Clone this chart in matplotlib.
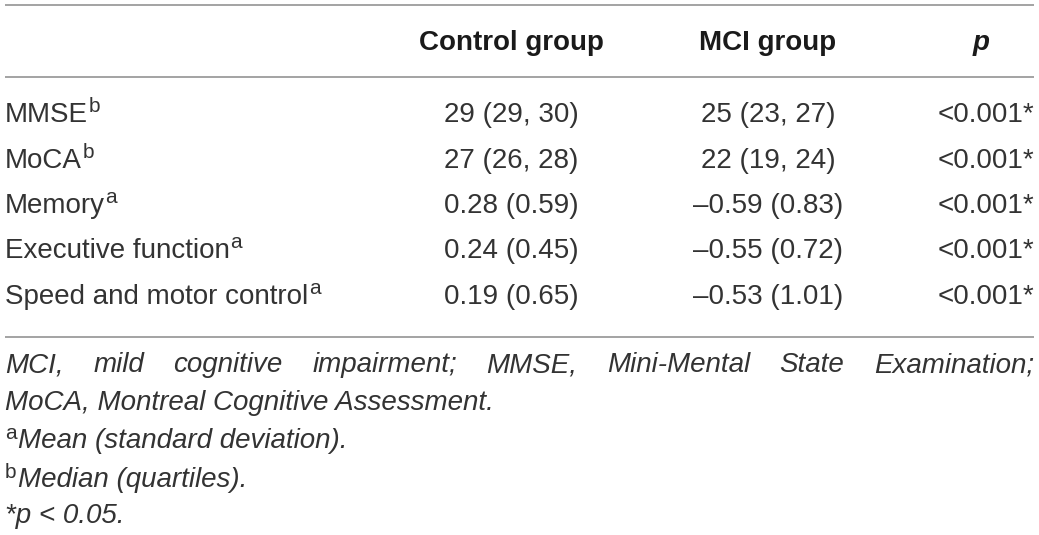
import matplotlib
matplotlib.use("Agg")
import matplotlib.pyplot as plt

plt.rcParams['font.family'] = ['Liberation Sans', 'DejaVu Sans']

# table content
columns = ["Control group", "MCI group", "p"]
variables = ["MMSE", "MoCA", "Memory", "Executive function", "Speed and motor control"]
marks = ["b", "b", "a", "a", "a"]
control = ["29 (29, 30)", "27 (26, 28)", "0.28 (0.59)", "0.24 (0.45)", "0.19 (0.65)"]
mci = ["25 (23, 27)", "22 (19, 24)", "\u20130.59 (0.83)", "\u20130.55 (0.72)", "\u20130.53 (1.01)"]
pvals = ["<0.001*", "<0.001*", "<0.001*", "<0.001*", "<0.001*"]

abbrev_line1 = "MCI, mild cognitive impairment; MMSE, Mini-Mental State Examination;"
abbrev_line2 = "MoCA, Montreal Cognitive Assessment."
foot_marks = ["a", "b"]
foot_texts = ["Mean (standard deviation).", "Median (quartiles)."]
sig_note = "*p < 0.05."

# layout (pixels)
W, H = 1039, 535
LEFT, RIGHT = 5, 1034
col_x = [511, 768, 981]
header_y = 50
row_y = [122, 167.5, 213, 258.5, 304]
rule_y = [5, 76.5, 337]
foot_y = [372, 410, 448, 487, 523]
FS = 20
SUP_FS = 15
TXT = "#333333"

fig = plt.figure(figsize=(W / 100, H / 100), dpi=100)
ax = fig.add_axes([0, 0, 1, 1])
ax.set_xlim(0, W)
ax.set_ylim(H, 0)
ax.axis("off")
renderer = fig.canvas.get_renderer()


def put(x, y, s, ha="left", size=FS, **kw):
    t = ax.text(x, y, s, ha=ha, va="baseline", fontsize=size, color=TXT, **kw)
    return t.get_window_extent(renderer)


for y in rule_y:
    ax.plot([LEFT, RIGHT], [y, y], color="#9c9c9c", lw=1.3, solid_capstyle="butt")

# header
for x, name in zip(col_x, columns):
    style = "italic" if name == "p" else "normal"
    ax.text(x, header_y, name, ha="center", va="baseline", fontsize=FS,
            fontweight="bold", fontstyle=style, color="#1a1a1a")

# body rows
for i, y in enumerate(row_y):
    bb = put(LEFT, y, variables[i])
    put(bb.x1 + 0.5, y - 10, marks[i], size=SUP_FS)
    put(col_x[0], y, control[i], ha="center")
    put(col_x[1], y, mci[i], ha="center")
    put(RIGHT, y, pvals[i], ha="right")

# footnotes: first line justified across the full width
words = abbrev_line1.split()
widths = []
for w in words:
    t = ax.text(0, 0, w, fontsize=FS, fontstyle="italic")
    widths.append(t.get_window_extent(renderer).width)
    t.remove()
gap = (RIGHT - LEFT - sum(widths)) / (len(words) - 1)
x = LEFT
for w, wd in zip(words, widths):
    put(x, foot_y[0], w, fontstyle="italic")
    x += wd + gap

put(LEFT, foot_y[1], abbrev_line2, fontstyle="italic")
for j, (m, txt) in enumerate(zip(foot_marks, foot_texts)):
    y = foot_y[2 + j]
    bb = put(LEFT, y - 9, m, size=SUP_FS)
    put(bb.x1 + 1.5, y, txt, fontstyle="italic")
put(LEFT, foot_y[4], sig_note, fontstyle="italic")

fig.savefig("out.png", dpi=100)
